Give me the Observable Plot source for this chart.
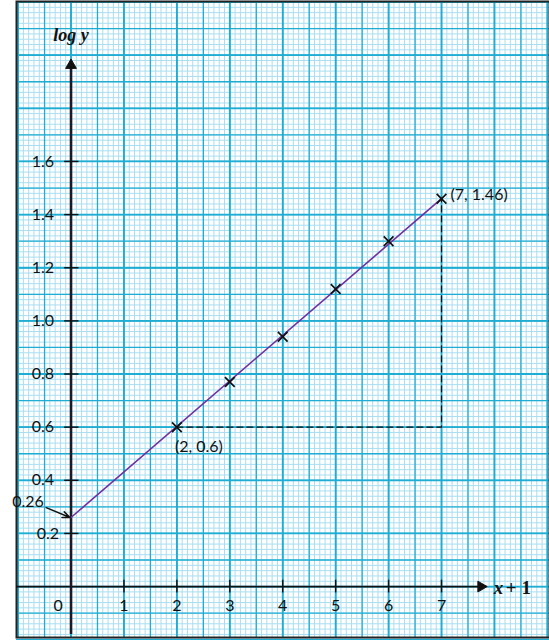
<!DOCTYPE html>
<html>
<head>
<meta charset="utf-8">
<script src="https://cdn.jsdelivr.net/npm/d3@7"></script>
<script src="https://cdn.jsdelivr.net/npm/@observablehq/plot@0.6"></script>
<style>
  html, body { margin: 0; padding: 0; background: white; }
  #chart svg { display: block; }
</style>
</head>
<body>
<div id="chart"></div>
<script>
// ---- data ----
const xTicks = [1, 2, 3, 4, 5, 6, 7];
const xTickLabels = ["1", "2", "3", "4", "5", "6", "7"];
const yTicks = [0.2, 0.4, 0.6, 0.8, 1.0, 1.2, 1.4, 1.6];
const yTickLabels = ["0.2", "0.4", "0.6", "0.8", "1.0", "1.2", "1.4", "1.6"];
const pointX = [2, 3, 4, 5, 6, 7];
const pointY = [0.6, 0.77, 0.94, 1.12, 1.30, 1.46];
const lineX = [0, 7];
const lineY = [0.26, 1.46];
const intercept = 0.26;
const p1 = {x: 2, y: 0.6, label: "(2, 0.6)"};
const p2 = {x: 7, y: 1.46, label: "(7, 1.46)"};

// ---- graph paper grid ----
const minorX = d3.range(-10, 91).map(i => i / 10);
const mediumX = d3.range(-2, 19).map(i => i / 2);
const majorX = d3.range(-1, 10);
const minorY = d3.range(-9, 111).map(i => i / 50);
const mediumY = d3.range(-1, 23).map(i => i / 10);
const majorY = d3.range(-1, 12).map(i => i / 5);

const points = pointX.map((x, i) => ({x, y: pointY[i]}));
const line = lineX.map((x, i) => ({x, y: lineY[i]}));
const yT = yTicks.map((y, i) => ({y, label: yTickLabels[i]}));
const xT = xTicks.map((x, i) => ({x, label: xTickLabels[i]}));

const minorColor = "#a9def0";
const majorColor = "#1fadd3";
const ink = "#111";
const sans = "Lato, 'Open Sans', sans-serif";
const serif = "'Liberation Serif', 'DejaVu Serif', serif";
const fs = 16;

const chart = Plot.plot({
  width: 549,
  height: 640,
  marginLeft: 16,
  marginRight: 0,
  marginTop: 1,
  marginBottom: 3,
  x: {domain: [-1.03, 9.04], axis: null},
  y: {domain: [-0.1916, 2.202], axis: null},
  style: {background: "white", overflow: "visible"},
  marks: [
    Plot.ruleX(minorX, {stroke: minorColor, strokeWidth: 1}),
    Plot.ruleY(minorY, {stroke: minorColor, strokeWidth: 1}),
    Plot.ruleX(mediumX, {stroke: majorColor, strokeWidth: 1.3}),
    Plot.ruleY(mediumY, {stroke: majorColor, strokeWidth: 1.3}),
    Plot.ruleX(majorX, {stroke: majorColor, strokeWidth: 1.8}),
    Plot.ruleY(majorY, {stroke: majorColor, strokeWidth: 1.8}),
    Plot.frame({stroke: "#222", strokeWidth: 2}),

    // axes
    Plot.ruleY([0], {x1: -1.03, x2: 7.7, stroke: ink, strokeWidth: 1.6}),
    Plot.ruleX([0], {y1: -0.18, y2: 1.95, stroke: "#1a1a28", strokeWidth: 2.6}),
    Plot.dot([{x: 0, y: 1.962}], {x: "x", y: "y", symbol: "triangle", r: 4, fill: ink, stroke: ink, strokeWidth: 1}),
    Plot.dot([{x: 7.745, y: 0}], {x: "x", y: "y", symbol: "triangle", r: 4, rotate: 90, fill: ink, stroke: ink, strokeWidth: 1}),

    // ticks
    Plot.ruleY(yT, {y: "y", x1: -0.12, x2: 0.15, stroke: ink, strokeWidth: 1.4}),
    Plot.ruleX(xT, {x: "x", y1: -0.024, y2: 0.024, stroke: ink, strokeWidth: 1.4}),

    // tick labels
    Plot.text(yT.filter(d => d.y > 0.3), {x: 0, y: "y", text: "label", dx: -17, textAnchor: "end", fontFamily: sans, fontSize: fs, fill: ink}),
    Plot.text(yT.filter(d => d.y < 0.3), {x: 0, y: "y", text: "label", dx: -12, textAnchor: "end", fontFamily: sans, fontSize: fs, fill: ink}),
    Plot.text(xT, {x: "x", y: 0, text: "label", dy: 19, fontFamily: sans, fontSize: fs, fill: ink}),
    Plot.text(["0"], {x: 0, y: 0, text: d => d, dx: -13, dy: 19, fontFamily: sans, fontSize: fs, fill: ink}),

    // axis titles
    Plot.text(["log y"], {x: 0, y: 2.202, text: d => d, dy: 39, lineAnchor: "bottom", fontFamily: serif, fontSize: 18, fontWeight: "bold", fontStyle: "italic", fill: ink}),
    Plot.text(["x"], {x: 7.8, y: 0, text: d => d, dx: 10, dy: 1, textAnchor: "start", fontFamily: serif, fontSize: 19, fontWeight: "bold", fontStyle: "italic", fill: ink}),
    Plot.text(["+ 1"], {x: 7.8, y: 0, text: d => d, dx: 22, dy: 1, textAnchor: "start", fontFamily: serif, fontSize: 19, fontWeight: "bold", fill: ink}),

    // dashed construction lines
    Plot.line([p1, {x: p2.x, y: p1.y}, p2], {x: "x", y: "y", stroke: ink, strokeWidth: 1.2, strokeDasharray: "6,4"}),

    // best-fit line
    Plot.line(line, {x: "x", y: "y", stroke: "#7030a0", strokeWidth: 1.6}),

    // data points
    Plot.dot(points, {x: "x", y: "y", symbol: "times", r: 4.5, stroke: ink, strokeWidth: 1.7}),

    // annotations
    Plot.text([p2], {x: "x", y: "y", text: "label", dx: 9, dy: -4, textAnchor: "start", fontFamily: sans, fontSize: fs, fill: ink}),
    Plot.text([p1], {x: "x", y: "y", text: "label", dx: -2, dy: 20, textAnchor: "start", fontFamily: sans, fontSize: fs, fill: ink}),
    Plot.text([{x: 0, y: intercept, label: "0.26"}], {x: "x", y: "y", text: "label", dx: -43, dy: -16, fontFamily: sans, fontSize: fs, fill: ink}),
    Plot.arrow([{x: 0, y: intercept}], {x1: -0.47, y1: intercept + 0.037, x2: d => d.x - 0.02, y2: "y", stroke: ink, strokeWidth: 1.5, headLength: 8, headAngle: 45})
  ]
});
document.getElementById("chart").appendChild(chart);
</script>
</body>
</html>
